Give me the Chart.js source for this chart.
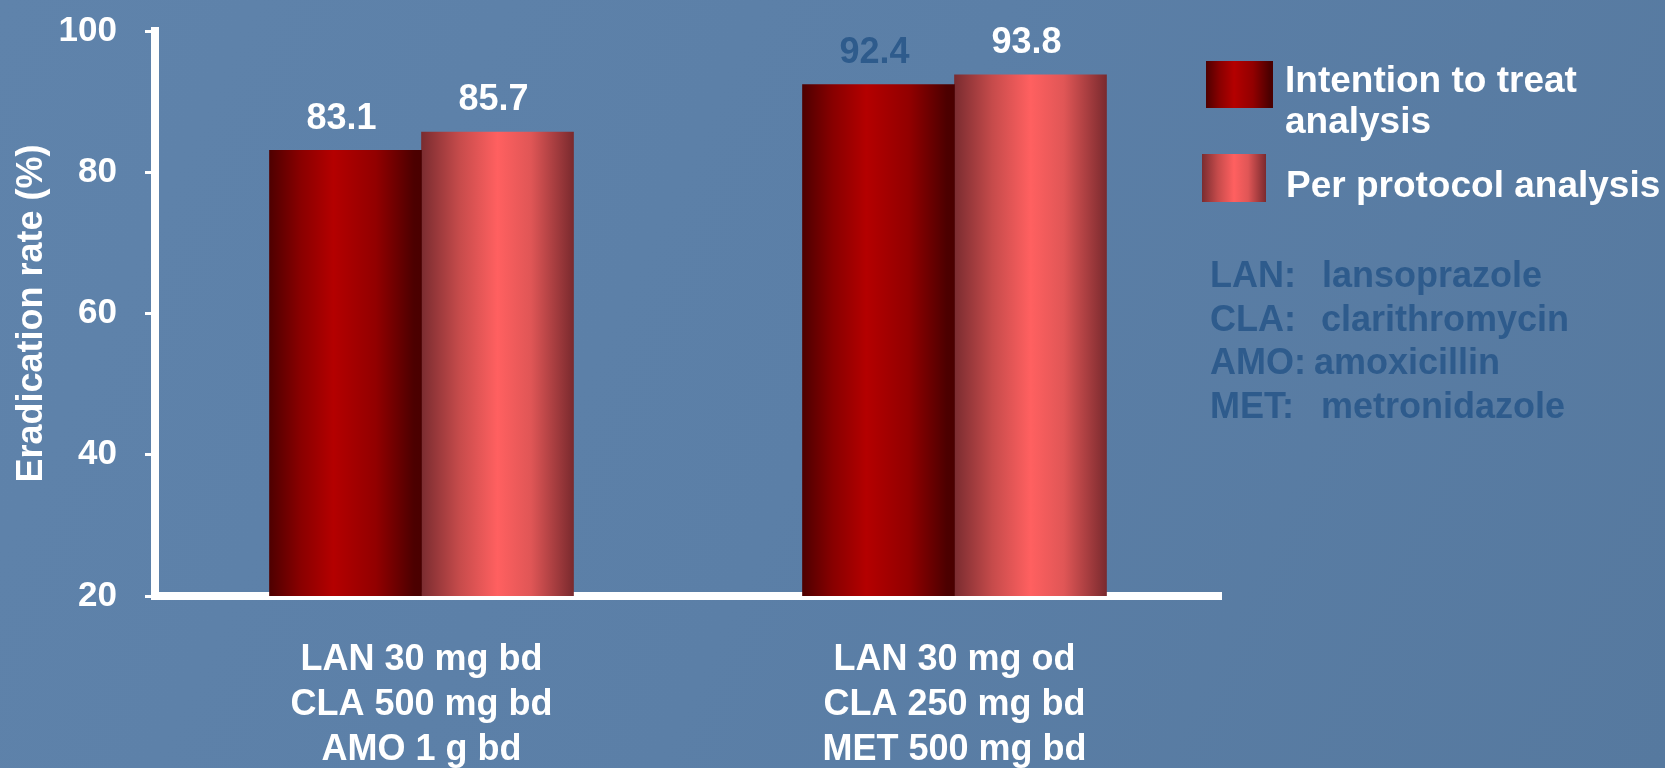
<!DOCTYPE html>
<html><head><meta charset="utf-8">
<script src="https://cdn.jsdelivr.net/npm/chart.js@4/dist/chart.umd.min.js"></script>
<style>html,body{margin:0;padding:0;background:#5a7ea6;overflow:hidden}canvas{display:block}</style>
</head><body>
<canvas id="c" width="1665" height="768"></canvas>
<script>
// ---- data ----
const categories = [
  ["LAN 30 mg bd", "CLA 500 mg bd", "AMO 1 g bd"],
  ["LAN 30 mg od", "CLA 250 mg bd", "MET 500 mg bd"]
];
const seriesNames = ["Intention to treat analysis", "Per protocol analysis"];
const legendLines = [["Intention to treat", "analysis"], ["Per protocol analysis"]];
const ittValues = [83.1, 92.4];
const ppValues = [85.7, 93.8];
const yTicks = [20, 40, 60, 80, 100];
const yTitle = "Eradication rate (%)";
const abbrevCodes = ["LAN:", "CLA:", "AMO:", "MET:"];
const abbrevNames = ["lansoprazole", "clarithromycin", "amoxicillin", "metronidazole"];

// ---- styles ----
const FONT = "'Liberation Sans', Arial, Helvetica, sans-serif";
const labelColors = [["#ffffff", "#2e5b8c"], ["#ffffff", "#ffffff"]];
const abbrevNameX = [1322, 1321, 1314, 1321];
const gradStops = [
  [[0, "#4e0000"], [0.2, "#880000"], [0.42, "#b40000"], [0.7, "#920000"], [0.95, "#4c0000"], [1, "#4a0000"]],
  [[0, "#7a2c30"], [0.25, "#c64b4b"], [0.5, "#ff6060"], [0.72, "#e05656"], [1, "#7a2a2e"]]
];
function makeGrad(ctx, x0, x1, stops) {
  const g = ctx.createLinearGradient(x0, 0, x1, 0);
  stops.forEach(s => g.addColorStop(s[0], s[1]));
  return g;
}

const bgPlugin = {
  id: 'bg',
  beforeDraw(chart) {
    const ctx = chart.ctx;
    const g = ctx.createLinearGradient(0, 0, chart.width, chart.height);
    g.addColorStop(0, "#5f83ab");
    g.addColorStop(0.5, "#5b7fa7");
    g.addColorStop(1, "#56799f");
    ctx.save();
    ctx.fillStyle = g;
    ctx.fillRect(0, 0, chart.width, chart.height);
    ctx.restore();
  }
};

const gradPlugin = {
  id: 'barGrad',
  beforeDatasetsDraw(chart) {
    const ctx = chart.ctx;
    chart.data.datasets.forEach((ds, di) => {
      chart.getDatasetMeta(di).data.forEach(el => {
        const g = makeGrad(ctx, el.x - el.width / 2, el.x + el.width / 2, gradStops[di]);
        el.options = Object.assign({}, el.options, { backgroundColor: g });
      });
    });
  }
};

const valueLabelPlugin = {
  id: 'valueLabels',
  afterDatasetsDraw(chart) {
    const ctx = chart.ctx;
    ctx.save();
    ctx.font = "bold 36px " + FONT;
    ctx.textAlign = "center";
    ctx.textBaseline = "alphabetic";
    chart.data.datasets.forEach((ds, di) => {
      chart.getDatasetMeta(di).data.forEach((el, i) => {
        ctx.fillStyle = labelColors[di][i];
        ctx.fillText(Number(ds.data[i]).toFixed(1), el.x - 4, el.y - 21.5);
      });
    });
    ctx.restore();
  }
};

const legendPlugin = {
  id: 'sideLegend',
  afterDraw(chart) {
    const ctx = chart.ctx;
    ctx.save();
    const boxes = [[1206, 61, 67, 47], [1202, 154, 64, 48]];
    boxes.forEach((b, i) => {
      ctx.fillStyle = makeGrad(ctx, b[0], b[0] + b[2], gradStops[i]);
      ctx.fillRect(b[0], b[1], b[2], b[3]);
    });
    ctx.fillStyle = "#ffffff";
    ctx.font = "bold 37px " + FONT;
    ctx.textAlign = "left";
    ctx.textBaseline = "alphabetic";
    ctx.fillText(legendLines[0][0], 1285, 92);
    ctx.fillText(legendLines[0][1], 1285, 133);
    ctx.fillText(legendLines[1][0], 1286, 197);
    ctx.fillStyle = "#2e5b8c";
    ctx.font = "bold 36px " + FONT;
    abbrevCodes.forEach((c, i) => {
      const y = 287 + i * 43.5;
      ctx.fillText(c, 1210, y);
      ctx.fillText(abbrevNames[i], abbrevNameX[i], y);
    });
    ctx.restore();
  }
};

new Chart(document.getElementById('c'), {
  type: 'bar',
  data: {
    labels: categories,
    datasets: [
      { label: seriesNames[0], data: ittValues, backgroundColor: "#a00000", borderWidth: 0 },
      { label: seriesNames[1], data: ppValues, backgroundColor: "#f05555", borderWidth: 0 }
    ]
  },
  options: {
    responsive: false,
    devicePixelRatio: 1,
    animation: false,
    layout: { padding: { left: 0, top: 31, right: 444, bottom: 0 } },
    datasets: { bar: { barThickness: 152, grouped: true } },
    plugins: { legend: { display: false }, tooltip: { enabled: false } },
    scales: {
      x: {
        offset: true,
        afterFit: s => { s.height = 172; s.paddingLeft = 0; s.paddingRight = 0; },
        ticks: {
          autoSkip: false,
          maxRotation: 0,
          color: "#ffffff",
          padding: 42,
          font: { family: FONT, size: 36, weight: 'bold', lineHeight: 1.25 }
        },
        grid: { display: false, drawTicks: false },
        border: { display: true, color: "#ffffff", width: 8 }
      },
      y: {
        min: 20,
        max: 100,
        afterBuildTicks: s => { s.ticks = yTicks.map(v => ({ value: v })); },
        afterFit: s => { s.width = 155; s.paddingTop = 0; s.paddingBottom = 0; },
        ticks: {
          color: "#ffffff",
          padding: 28,
          font: { family: FONT, size: 35, weight: 'bold' }
        },
        grid: { drawOnChartArea: false, drawTicks: true, tickLength: 10, color: "#ffffff", lineWidth: 3 },
        border: { display: true, color: "#ffffff", width: 8 },
        title: {
          display: true,
          text: yTitle,
          color: "#ffffff",
          padding: { top: 10, bottom: 0 },
          font: { family: FONT, size: 36, weight: 'bold' }
        }
      }
    }
  },
  plugins: [bgPlugin, gradPlugin, valueLabelPlugin, legendPlugin]
});
</script>
</body></html>
